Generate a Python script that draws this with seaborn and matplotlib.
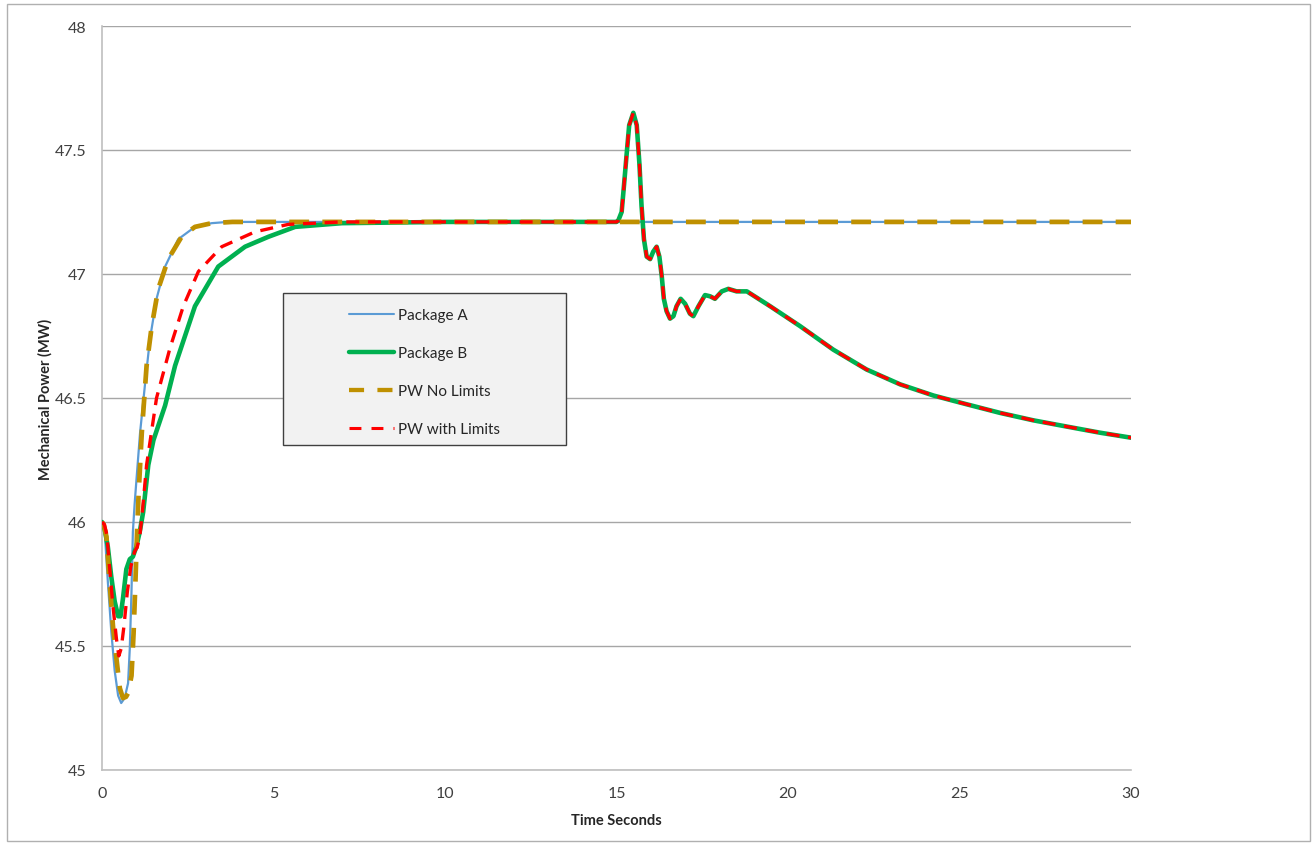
import numpy as np
import pandas as pd
import matplotlib
matplotlib.use("Agg")
import matplotlib.pyplot as plt
from matplotlib.patches import Rectangle
from matplotlib.lines import Line2D
import seaborn as sns

# ---------------- data ----------------
pkg_a_t = [0, 0.08, 0.17, 0.27, 0.37, 0.47, 0.56, 0.66, 0.76, 0.81, 0.86, 0.90, 0.95, 1.01,
           1.11, 1.25, 1.40, 1.59, 1.84, 2.22, 2.71, 3.20, 3.67, 10, 20, 30]
pkg_a_p = [46.00, 45.96, 45.76, 45.56, 45.40, 45.30, 45.27, 45.29, 45.35, 45.49, 45.72, 45.96, 46.07, 46.18,
           46.36, 46.55, 46.74, 46.90, 47.03, 47.14, 47.19, 47.205, 47.21, 47.21, 47.21, 47.21]

pw_nolim_t = [0, 0.05, 0.13, 0.22, 0.32, 0.42, 0.52, 0.61, 0.70, 0.76, 0.86, 0.92, 0.97, 1.02,
              1.07, 1.16, 1.30, 1.45, 1.64, 1.93, 2.32, 2.71, 3.20, 3.8, 10, 20, 30]
pw_nolim_p = [46.00, 45.99, 45.94, 45.76, 45.58, 45.45, 45.33, 45.29, 45.295, 45.31, 45.38, 45.55, 45.74, 45.95,
              46.12, 46.36, 46.63, 46.79, 46.94, 47.06, 47.15, 47.19, 47.205, 47.21, 47.21, 47.21, 47.21]

pkg_b_t = [0, 0.08, 0.17, 0.27, 0.37, 0.47, 0.54, 0.61, 0.71, 0.81, 0.90, 1.00, 1.10, 1.20, 1.35, 1.50,
           1.84, 2.13, 2.71, 3.39, 4.17, 4.85, 5.63, 7.0, 10, 15.0,
           15.05, 15.15, 15.22, 15.30, 15.37, 15.49, 15.59, 15.67, 15.73, 15.80, 15.88, 15.98, 16.07,
           16.17, 16.25, 16.32, 16.38, 16.46, 16.56, 16.66, 16.75, 16.87, 17.00, 17.14, 17.24, 17.39,
           17.58, 17.73, 17.87, 18.07, 18.26, 18.50, 18.80, 19.48, 20.35, 21.32, 22.29, 23.27, 24.24,
           25.2, 26.18, 27.15, 28.12, 29.10, 30]
pkg_b_p = [46.00, 45.97, 45.90, 45.78, 45.68, 45.62, 45.62, 45.69, 45.81, 45.85, 45.86, 45.90, 45.96, 46.04, 46.23, 46.33,
           46.47, 46.63, 46.87, 47.03, 47.11, 47.15, 47.19, 47.205, 47.21, 47.21,
           47.215, 47.25, 47.36, 47.49, 47.60, 47.65, 47.60, 47.44, 47.275, 47.14, 47.07, 47.06, 47.09,
           47.11, 47.07, 46.99, 46.90, 46.85, 46.82, 46.83, 46.87, 46.90, 46.88, 46.84, 46.83, 46.87,
           46.915, 46.91, 46.90, 46.93, 46.94, 46.93, 46.93, 46.87, 46.79, 46.695, 46.615, 46.555, 46.51,
           46.475, 46.44, 46.41, 46.385, 46.36, 46.34]

pw_lim_t = [0, 0.07, 0.14, 0.22, 0.32, 0.42, 0.49, 0.56, 0.64, 0.74, 0.84, 0.95, 1.03, 1.10, 1.17,
            1.30, 1.59, 1.98, 2.37, 2.81, 3.49, 4.46, 5.43, 7.0, 10, 15.0] + pkg_b_t[26:]
pw_lim_p = [46.00, 45.99, 45.95, 45.82, 45.66, 45.53, 45.46, 45.49, 45.58, 45.72, 45.82, 45.88, 45.90, 45.94, 46.03,
            46.23, 46.50, 46.70, 46.87, 47.01, 47.11, 47.17, 47.20, 47.21, 47.21, 47.21] + pkg_b_p[26:]

series_names = ["Package A", "Package B", "PW No Limits", "PW with Limits"]
x_ticks = [0, 5, 10, 15, 20, 25, 30]
y_ticks = [45, 45.5, 46, 46.5, 47, 47.5, 48]
y_tick_labels = ["45", "45.5", "46", "46.5", "47", "47.5", "48"]

# ---------------- styling ----------------
sns.set_style("white")
plt.rcParams["font.family"] = ["Lato", "DejaVu Sans"]

fig = plt.figure(figsize=(13.14, 8.45), dpi=100)
ax = fig.add_axes([102 / 1314, 1 - 771 / 845, (1131 - 102) / 1314, (771 - 27) / 845])

# outer chart border
fig.patches.append(Rectangle((7 / 1314, 3 / 845), 1303 / 1314, 837 / 845, transform=fig.transFigure,
                             fill=False, edgecolor="#b0b0b0", linewidth=1.0, zorder=0))

colors = {"Package A": "#5b9bd5", "Package B": "#00b050",
          "PW No Limits": "#bf9000", "PW with Limits": "#ff0000"}
widths = {"Package A": 1.6, "Package B": 3.3, "PW No Limits": 3.4, "PW with Limits": 2.4}
dashes = {"Package A": None, "Package B": None,
          "PW No Limits": (4.2, 2.8), "PW with Limits": (3.9, 2.6)}

data = {
    "Package A": (pkg_a_t, pkg_a_p),
    "Package B": (pkg_b_t, pkg_b_p),
    "PW No Limits": (pw_nolim_t, pw_nolim_p),
    "PW with Limits": (pw_lim_t, pw_lim_p),
}

for i, name in enumerate(series_names):
    t, p = data[name]
    df = pd.DataFrame({"t": t, "p": p})
    sns.lineplot(data=df, x="t", y="p", ax=ax, sort=False, estimator=None,
                 color=colors[name], linewidth=widths[name], zorder=3 + i)
    line = ax.lines[-1]
    if dashes[name] is not None:
        line.set_linestyle((0, dashes[name]))
    line.set_solid_joinstyle("round")
    line.set_dash_joinstyle("round")

ax.set_xlim(0, 30)
ax.set_ylim(45, 48)
ax.set_xticks(x_ticks)
ax.set_yticks(y_ticks)
ax.set_yticklabels(y_tick_labels)
ax.grid(axis="y", color="#a6a6a6", linewidth=1.0)
ax.grid(axis="x", visible=False)
for s in ["top", "right"]:
    ax.spines[s].set_visible(False)
for s in ["left", "bottom"]:
    ax.spines[s].set_color("#bfbfbf")
    ax.spines[s].set_linewidth(1.2)
ax.tick_params(axis="both", which="both", length=4.3, color="#bfbfbf", labelsize=11.5,
               labelcolor="#404040", direction="out", width=1)
ax.tick_params(axis="x", pad=7.5)
ax.tick_params(axis="y", pad=7)
ax.set_xlabel("Time Seconds", fontsize=10.5, fontweight="bold", labelpad=9)
ax.set_ylabel("Mechanical Power (MW)", fontsize=10.5, fontweight="bold", labelpad=1.5)

# legend box
lx0, lx1 = (283 - 102) / 1029, (566 - 102) / 1029
ly0, ly1 = (771 - 446) / 744, (771 - 294) / 744
ax.add_patch(Rectangle((lx0, ly0), lx1 - lx0, ly1 - ly0, transform=ax.transAxes,
                       facecolor="#f2f2f2", edgecolor="#404040", linewidth=1.0, zorder=10))
handle_w = {"Package A": 1.5, "Package B": 3.2, "PW No Limits": 3.1, "PW with Limits": 2.2}
handle_d = {"PW No Limits": (3.5, 3.1), "PW with Limits": (3.9, 3.3)}
handles = []
for name in series_names:
    h = Line2D([], [], color=colors[name], linewidth=handle_w[name])
    if name in handle_d:
        h.set_linestyle((0, handle_d[name]))
    handles.append(h)
leg = ax.legend(handles, series_names, loc="upper left",
                bbox_to_anchor=((349 - 102) / 1029, (771 - 309) / 744),
                frameon=False, fontsize=11, handlelength=2.95, handletextpad=0.25,
                labelspacing=1.57, borderpad=0, borderaxespad=0)
leg.set_zorder(11)
for txt in leg.get_texts():
    txt.set_color("#262626")

fig.savefig("out.png", dpi=100)
